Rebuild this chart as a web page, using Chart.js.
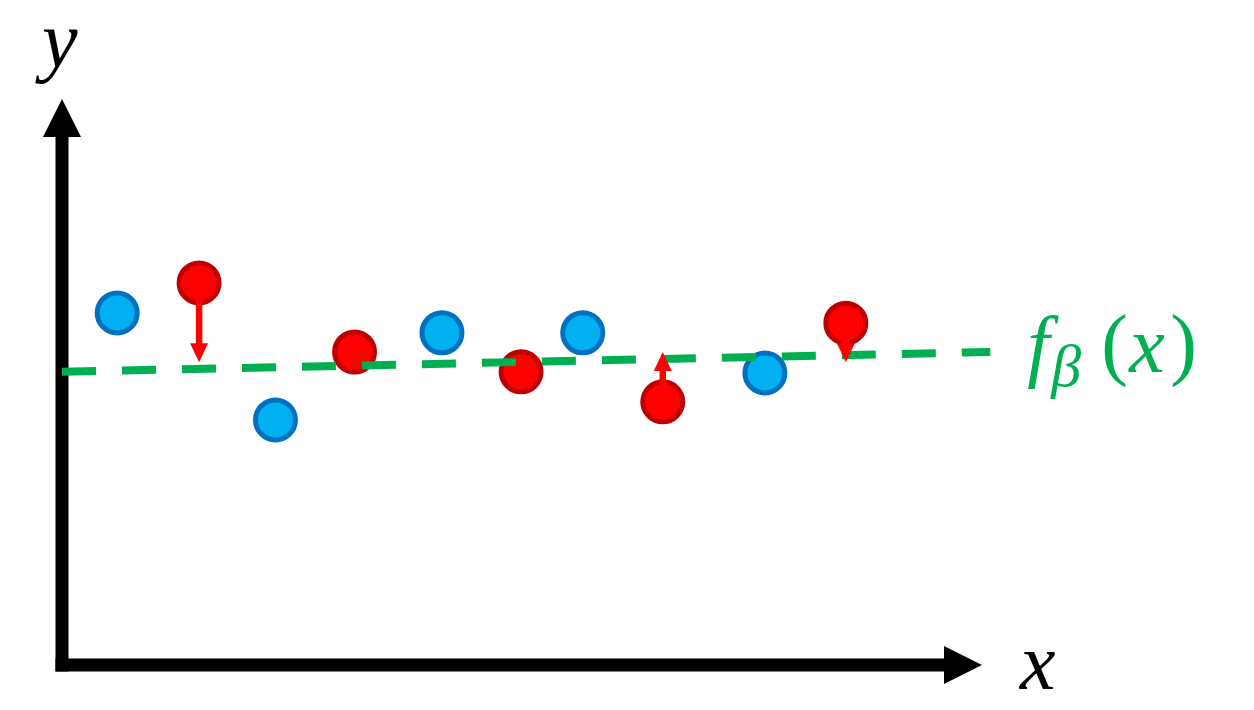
<!DOCTYPE html>
<html>
<head>
<meta charset="utf-8">
<script src="https://cdn.jsdelivr.net/npm/chart.js@4/dist/chart.umd.min.js"></script>
<style>
  html, body { margin: 0; padding: 0; background: #ffffff; }
  #wrap { width: 1254px; height: 710px; }
</style>
</head>
<body>
<div id="wrap"><canvas id="c" width="1254" height="710"></canvas></div>
<script>
// ---- data (axis units: 0..100 on both axes) ----
const blueX = [6.0, 23.2, 41.3, 56.6, 76.4];
const blueY = [62.2, 43.3, 58.7, 58.7, 51.6];
const redX = [14.9, 31.8, 49.9, 65.3, 85.2];
const redY = [67.5, 55.3, 51.8, 46.5, 60.4];
const residualTipY = [53.5, null, null, 55.3, 53.5];
const fitX = [0, 100.9];
const fitY = [51.8, 55.3];
const xAxisLabel = 'x';
const yAxisLabel = 'y';
const fitLabelMain = 'f';
const fitLabelSub = 'β';
const fitLabelArg = 'x';

const GREEN = '#00B050';

const toPts = (xs, ys) => xs.map((x, i) => ({ x: x, y: ys[i] }));

const axesPlugin = {
  id: 'axesArrows',
  beforeDatasetsDraw(chart) {
    const ctx = chart.ctx;
    const a = chart.chartArea;
    const w = 13, head = 38, half = 19;
    ctx.save();
    ctx.fillStyle = '#000000';
    // y axis
    ctx.fillRect(a.left - w / 2, a.top + head, w, a.bottom + w / 2 - (a.top + head));
    ctx.beginPath();
    ctx.moveTo(a.left - half, a.top + head);
    ctx.lineTo(a.left + half, a.top + head);
    ctx.lineTo(a.left, a.top);
    ctx.closePath();
    ctx.fill();
    // x axis
    ctx.fillRect(a.left - w / 2, a.bottom - w / 2, a.right - head - (a.left - w / 2), w);
    ctx.beginPath();
    ctx.moveTo(a.right - head, a.bottom - half);
    ctx.lineTo(a.right - head, a.bottom + half);
    ctx.lineTo(a.right, a.bottom);
    ctx.closePath();
    ctx.fill();
    ctx.restore();
  },
  afterDatasetsDraw(chart) {
    // residual arrows, drawn over the red points
    const ctx = chart.ctx;
    const xs = chart.scales.x, ys = chart.scales.y;
    ctx.save();
    ctx.fillStyle = '#FF0000';
    ctx.strokeStyle = '#FF0000';
    redX.forEach((rx, i) => {
      const tip = residualTipY[i];
      if (tip === null || tip === undefined) return;
      const px = xs.getPixelForValue(rx);
      const py = ys.getPixelForValue(redY[i]);
      const ty = ys.getPixelForValue(tip);
      const dir = ty > py ? 1 : -1;
      const hl = 19, hw = 9;
      const baseY = ty - dir * hl;
      const startY = py + dir * 12;
      if ((baseY - startY) * dir > 0) {
        ctx.lineWidth = 6.5;
        ctx.beginPath();
        ctx.moveTo(px, startY);
        ctx.lineTo(px, baseY + dir * 1);
        ctx.stroke();
      }
      ctx.beginPath();
      ctx.moveTo(px - hw, baseY);
      ctx.lineTo(px + hw, baseY);
      ctx.lineTo(px, ty);
      ctx.closePath();
      ctx.fill();
    });
    ctx.restore();
  },
  afterDraw(chart) {
    const ctx = chart.ctx;
    const a = chart.chartArea;
    const xs = chart.scales.x, ys = chart.scales.y;
    ctx.save();
    ctx.textBaseline = 'alphabetic';
    ctx.textAlign = 'left';
    ctx.fillStyle = '#000000';
    ctx.font = 'italic 80px "Liberation Serif", "DejaVu Serif", serif';
    ctx.fillText(yAxisLabel, a.left - 20, a.top - 32);
    ctx.fillText(xAxisLabel, a.right + 38, a.bottom + 24);

    // f_beta(x) label next to line end
    const lx = xs.getPixelForValue(fitX[fitX.length - 1]) + 37;
    const ly = ys.getPixelForValue(fitY[fitY.length - 1]) + 20;
    ctx.fillStyle = GREEN;
    ctx.font = 'italic 80px "Liberation Serif", "DejaVu Serif", serif';
    ctx.fillText(fitLabelMain, lx, ly);
    ctx.font = 'italic 60px "Liberation Serif", "DejaVu Serif", serif';
    ctx.fillText(fitLabelSub, lx + 24, ly + 14);
    ctx.font = '80px "Liberation Serif", "DejaVu Serif", serif';
    ctx.fillText('(', lx + 74, ly - 2);
    ctx.font = 'italic 80px "Liberation Serif", "DejaVu Serif", serif';
    ctx.fillText(fitLabelArg, lx + 102, ly);
    ctx.font = '80px "Liberation Serif", "DejaVu Serif", serif';
    ctx.fillText(')', lx + 143, ly - 2);
    ctx.restore();
  }
};

new Chart(document.getElementById('c'), {
  type: 'scatter',
  data: {
    datasets: [
      {
        label: 'fit',
        type: 'line',
        data: toPts(fitX, fitY),
        borderColor: GREEN,
        borderWidth: 8,
        borderDash: [34, 26],
        borderCapStyle: 'butt',
        pointRadius: 0,
        fill: false,
        tension: 0,
        clip: false,
        order: 0
      },
      {
        label: 'blue',
        data: toPts(blueX, blueY),
        backgroundColor: '#00B0F0',
        borderColor: '#0070C0',
        borderWidth: 5,
        pointRadius: 20,
        pointHoverRadius: 20,
        clip: false,
        order: 1
      },
      {
        label: 'red',
        data: toPts(redX, redY),
        backgroundColor: '#FF0000',
        borderColor: '#C00000',
        borderWidth: 5,
        pointRadius: 20,
        pointHoverRadius: 20,
        clip: false,
        order: 1
      }
    ]
  },
  options: {
    responsive: false,
    animation: false,
    devicePixelRatio: 1,
    events: [],
    layout: { padding: { left: 62, right: 272, top: 99, bottom: 45 } },
    plugins: { legend: { display: false }, tooltip: { enabled: false }, title: { display: false } },
    scales: {
      x: { type: 'linear', min: 0, max: 100, display: false },
      y: { type: 'linear', min: 0, max: 100, display: false }
    }
  },
  plugins: [axesPlugin]
});
</script>
</body>
</html>
